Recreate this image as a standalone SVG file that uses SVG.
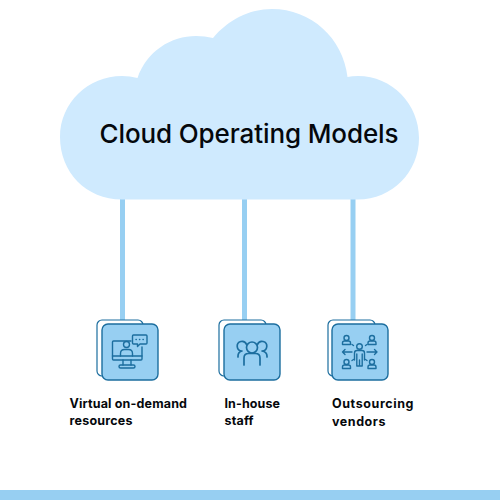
<svg xmlns="http://www.w3.org/2000/svg" width="500" height="500" viewBox="0 0 500 500">
<style>
.t{font-family:Inter,"Liberation Sans",sans-serif;fill:#05080c}
.l{font-size:12.5px;font-weight:700}
.back{fill:#fff;stroke:#1c6e9f;stroke-width:1.2}
.front{fill:#97cff2;stroke:#1c6e9f;stroke-width:1.4}
.i{fill:none;stroke:#1c6e9f;stroke-width:1.4;stroke-linecap:round;stroke-linejoin:round}
.c{stroke:#97cff2;stroke-width:5;fill:none}
</style>
<rect width="500" height="500" fill="#fff"/>
<g id="connectors">
<line class="c" x1="122.500" y1="195" x2="122.500" y2="325"/>
<line class="c" x1="244.500" y1="195" x2="244.500" y2="325"/>
<line class="c" x1="353" y1="195" x2="353" y2="325"/>
</g>
<g id="cloud">
<path d="M122 199.500C86 199.500 60 172 60 137C60 103 88 76 122 76Q130 76 137.500 78C147 51 171 36 196 36Q205 36 213 38C228 20 249 9 272 9C311 9 343 38 347.500 77Q352 76 358 76C392 76 419 104 419 138C419 172 392 199.500 358 199.500Z" fill="#cfeafe"/>
<text class="t" x="99.500" y="143" font-size="26" font-weight="500" textLength="299">Cloud Operating Models</text>
</g>
<g id="node-virtual">
<rect class="back" x="97" y="320" width="46" height="56" rx="5"/>
<rect class="front" x="102" y="324" width="56" height="56" rx="6"/>
<g class="i">
<path d="M131 341H113.500Q112.500 341 112.500 342V359Q112.500 360 113.500 360H141Q142 360 142 359V347"/>
<path d="M112.500 356H142M123 360V365M131 360V365"/>
<path d="M120.500 368Q119 368 119 366.500Q119 365 120.500 365H133.500Q135 365 135 366.500Q135 368 133.500 368Z"/>
<circle cx="126.500" cy="344.500" r="3"/>
<path d="M120.500 356V353.500Q120.500 349.500 124.500 349.500H128.500Q132.500 349.500 132.500 353.500V356"/>
<path d="M133.500 335H146Q147 335 147 336V343Q147 344 146 344H140L137.500 346.500V344H133.500Q132.500 344 132.500 343V336Q132.500 335 133.500 335Z"/>
<path d="M136 339.500H136.300M139.500 339.500H139.800M143 339.500H143.300"/>
</g>
</g>
<g id="node-staff">
<rect class="back" x="219" y="320" width="47" height="56" rx="5"/>
<rect class="front" x="224" y="324" width="56" height="56" rx="6"/>
<g class="i" style="stroke-width:1.700">
<circle cx="252" cy="347.500" r="5.500"/>
<path d="M244 365V358Q244 353.500 248.500 353.500H255.500Q260 353.500 260 358V365"/>
<path d="M246.500 344.500A4.800 4.800 0 1 0 242 351Q238 352 238 356V357"/>
<path d="M257.500 344.500A4.800 4.800 0 1 1 262 351Q267 352 267 356V357"/>
</g>
</g>
<g id="node-vendors">
<rect class="back" x="328" y="320" width="47" height="56" rx="5"/>
<rect class="front" x="332" y="324" width="56" height="56" rx="6"/>
<g class="i">
<circle cx="346.500" cy="338" r="2.500"/><path d="M342.500 344.500V343Q342.500 341 344.500 341H348.500Q350.500 341 350.500 343V344.500Z"/>
<circle cx="372" cy="338" r="2.500"/><path d="M368 344.500V343Q368 341 370 341H374Q376 341 376 343V344.500Z"/>
<circle cx="346.500" cy="362" r="2.500"/><path d="M342.500 368.500V367Q342.500 365 344.500 365H348.500Q350.500 365 350.500 367V368.500Z"/>
<circle cx="372" cy="362" r="2.500"/><path d="M368 368.500V367Q368 365 370 365H374Q376 365 376 367V368.500Z"/>
<circle cx="359.500" cy="346.500" r="2.800"/>
<path d="M354.500 360V353Q354.500 350.500 357 350.500H362Q364.500 350.500 364.500 353V360M356.800 354V366H362.200V354M359.500 360V366"/>
<path d="M342.500 352H352M345 349.500L342.500 352L345 354.500M367 352H377M374.500 349.500L377 352L374.500 354.500"/>
<path d="M352 344.500L353.500 345.500M365.500 345.500L367 344.500M352 360.500L353.500 359.500M365.500 359.500L367 360.500"/>
</g>
</g>
<text class="t l" x="69.500" y="408" textLength="117.500">Virtual on-demand</text>
<text class="t l" x="69.500" y="425" textLength="63">resources</text>
<text class="t l" x="224.500" y="408" textLength="55.500">In-house</text>
<text class="t l" x="224.500" y="425" textLength="29">staff</text>
<text class="t l" x="332" y="408" textLength="81.500">Outsourcing</text>
<text class="t l" x="332" y="426" textLength="53.500">vendors</text>
<rect id="band" x="0" y="490" width="500" height="10" fill="#97cff2"/>
</svg>
